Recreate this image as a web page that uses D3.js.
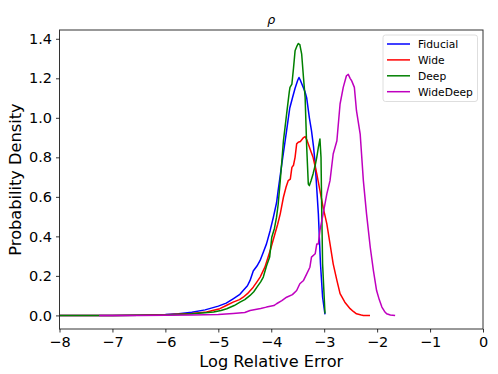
<!DOCTYPE html>
<html>
<head>
<meta charset="utf-8">
<title>rho</title>
<script src="https://cdn.jsdelivr.net/npm/d3@7"></script>
<style>
  html, body { margin: 0; padding: 0; background: #fff; }
  body { font-family: 'DejaVu Sans', sans-serif; }
</style>
</head>
<body>
<script>
// values (log relative error vs density)
var fidX = [-8, -7, -6.5, -6, -5.75, -5.5, -5.25, -5, -4.85, -4.72, -4.6, -4.53, -4.45, -4.4, -4.34, -4.27, -4.21, -4.15, -4.09, -4.02, -3.96, -3.9, -3.87, -3.8, -3.75, -3.71, -3.65, -3.6, -3.55, -3.5, -3.476, -3.45, -3.42, -3.395, -3.36, -3.33, -3.28, -3.24, -3.2, -3.17, -3.14, -3.11, -3.07, -3.03, -2.985];
var fidY = [0, 0, 0.001, 0.004, 0.009, 0.016, 0.028, 0.047, 0.062, 0.084, 0.105, 0.126, 0.15, 0.177, 0.225, 0.25, 0.278, 0.32, 0.362, 0.43, 0.497, 0.57, 0.632, 0.767, 0.86, 0.935, 1.05, 1.1, 1.15, 1.19, 1.204, 1.19, 1.17, 1.154, 1.13, 1.1, 1.0, 0.935, 0.85, 0.767, 0.64, 0.514, 0.261, 0.092, 0.005];

var wideX = [-8, -7, -6.5, -6, -5.5, -5.22, -4.97, -4.85, -4.72, -4.6, -4.53, -4.45, -4.34, -4.27, -4.21, -4.12, -4.02, -3.93, -3.88, -3.83, -3.77, -3.72, -3.68, -3.64, -3.61, -3.58, -3.55, -3.52, -3.49, -3.45, -3.42, -3.39, -3.36, -3.33, -3.3, -3.25, -3.21, -3.14, -3.08, -3.02, -2.95, -2.89, -2.83, -2.76, -2.7, -2.61, -2.51, -2.45, -2.39, -2.3, -2.26, -2.135];
var wideY = [0, 0, 0.001, 0.003, 0.01, 0.017, 0.034, 0.05, 0.067, 0.08, 0.092, 0.11, 0.143, 0.17, 0.194, 0.244, 0.328, 0.413, 0.46, 0.514, 0.598, 0.65, 0.682, 0.69, 0.749, 0.76, 0.8, 0.868, 0.876, 0.88, 0.89, 0.9, 0.905, 0.89, 0.868, 0.83, 0.8, 0.716, 0.632, 0.547, 0.463, 0.362, 0.261, 0.177, 0.11, 0.067, 0.034, 0.02, 0.008, 0.002, 0, 0];

var deepX = [-8, -7, -6.5, -6, -5.5, -5.25, -5.09, -4.95, -4.84, -4.7, -4.59, -4.5, -4.4, -4.33, -4.27, -4.2, -4.15, -4.09, -4.03, -3.99, -3.94, -3.9, -3.87, -3.83, -3.8, -3.77, -3.74, -3.71, -3.66, -3.646, -3.61, -3.58, -3.55, -3.52, -3.49, -3.46, -3.425, -3.39, -3.36, -3.33, -3.3, -3.28, -3.25, -3.21, -3.17, -3.14, -3.11, -3.08, -3.06, -3.05, -3.03, -2.985];
var deepY = [0, 0, 0.001, 0.002, 0.008, 0.013, 0.017, 0.025, 0.034, 0.05, 0.067, 0.08, 0.101, 0.12, 0.143, 0.17, 0.194, 0.25, 0.295, 0.396, 0.44, 0.497, 0.56, 0.682, 0.78, 0.884, 0.95, 1.019, 1.13, 1.154, 1.171, 1.25, 1.339, 1.36, 1.376, 1.37, 1.322, 1.2, 1.103, 0.85, 0.665, 0.657, 0.68, 0.716, 0.76, 0.8, 0.85, 0.893, 0.8, 0.598, 0.26, 0.01];

var wdX = [-7.25, -6.5, -6, -5.5, -5, -4.72, -4.5, -4.4, -4.2, -4.09, -3.95, -3.9, -3.8, -3.71, -3.6, -3.52, -3.46, -3.39, -3.33, -3.27, -3.24, -3.17, -3.14, -3.11, -3.08, -3.02, -2.95, -2.89, -2.83, -2.76, -2.7, -2.64, -2.58, -2.545, -2.51, -2.48, -2.43, -2.39, -2.32, -2.26, -2.2, -2.13, -2.07, -2.01, -1.96, -1.91, -1.86, -1.82, -1.75, -1.66];
var wdY = [0, 0, 0.001, 0.002, 0.005, 0.01, 0.015, 0.025, 0.035, 0.042, 0.05, 0.059, 0.075, 0.092, 0.105, 0.126, 0.16, 0.177, 0.21, 0.244, 0.295, 0.312, 0.362, 0.362, 0.43, 0.514, 0.615, 0.682, 0.817, 0.884, 1.07, 1.154, 1.213, 1.22, 1.2, 1.187, 1.154, 1.036, 0.918, 0.682, 0.514, 0.345, 0.227, 0.126, 0.08, 0.042, 0.02, 0.008, 0.002, 0];

var names = ["Fiducial", "Wide", "Deep", "WideDeep"];
var colors = ["#0000ff", "#ff0000", "#008000", "#bf00bf"];
var xTicks = [-8, -7, -6, -5, -4, -3, -2, -1, 0];
var yTicks = [0, 0.2, 0.4, 0.6, 0.8, 1.0, 1.2, 1.4];

var series = [[fidX, fidY], [wideX, wideY], [deepX, deepY], [wdX, wdY]];

var w = 498, h = 374;
var pL = 59.5, pR = 483, pT = 30, pB = 329;

var svg = d3.select("body").append("svg")
  .attr("width", w).attr("height", h);

var x = d3.scaleLinear().domain([-8, 0]).range([pL, pR]);
var y = d3.scaleLinear().domain([-0.0688, 1.4445]).range([pB, pT]);

var line = d3.line().x(function (d) { return x(d[0]); }).y(function (d) { return y(d[1]); });

var plot = svg.append("g");
series.forEach(function (s, i) {
  var pts = s[0].map(function (v, j) { return [v, s[1][j]]; });
  plot.append("path")
    .datum(pts)
    .attr("d", line)
    .attr("fill", "none")
    .attr("stroke", colors[i])
    .attr("stroke-width", 1.5)
    .attr("stroke-linejoin", "round");
});

// frame
svg.append("rect")
  .attr("x", pL).attr("y", pT)
  .attr("width", pR - pL).attr("height", pB - pT)
  .attr("fill", "none").attr("stroke", "#333").attr("stroke-width", 1);

var axisX = d3.axisBottom(x).tickValues(xTicks).tickSize(3.5).tickPadding(4)
  .tickFormat(function (d) { return d < 0 ? "\u2212" + Math.abs(d) : d; });
var axisY = d3.axisLeft(y).tickValues(yTicks).tickSize(3.5).tickPadding(4)
  .tickFormat(d3.format(".1f"));

var gx = svg.append("g").attr("transform", "translate(0," + pB + ")").call(axisX);
var gy = svg.append("g").attr("transform", "translate(" + pL + ",0)").call(axisY);
[gx, gy].forEach(function (g) {
  g.select(".domain").remove();
  g.selectAll("line").attr("stroke", "#000").attr("stroke-width", 0.8);
  g.selectAll("text").attr("font-family", "DejaVu Sans").attr("font-size", 14.5).attr("fill", "#000");
});

svg.append("text")
  .attr("x", (pL + pR) / 2).attr("y", 367)
  .attr("text-anchor", "middle")
  .attr("font-size", 16.2)
  .text("Log Relative Error");

svg.append("text")
  .attr("transform", "translate(21," + (pT + pB) / 2 + ") rotate(-90)")
  .attr("text-anchor", "middle")
  .attr("font-size", 16.2)
  .text("Probability Density");

svg.append("text")
  .attr("x", (pL + pR) / 2).attr("y", 24)
  .attr("text-anchor", "middle")
  .attr("font-size", 12.5)
  .attr("font-style", "italic")
  .text("\u03c1");

// legend
var lg = svg.append("g").attr("transform", "translate(383,35)");
lg.append("rect")
  .attr("width", 94.5).attr("height", 66.5).attr("rx", 2.5)
  .attr("fill", "#fff").attr("fill-opacity", 0.8)
  .attr("stroke", "#d6d6d6").attr("stroke-width", 0.8);
names.forEach(function (n, i) {
  var yy = 9 + i * 15.9;
  lg.append("line")
    .attr("x1", 4).attr("x2", 27).attr("y1", yy).attr("y2", yy)
    .attr("stroke", colors[i]).attr("stroke-width", 1.5);
  lg.append("text")
    .attr("x", 35).attr("y", yy + 3.8)
    .attr("font-size", 10.7)
    .text(n);
});
</script>
</body>
</html>
